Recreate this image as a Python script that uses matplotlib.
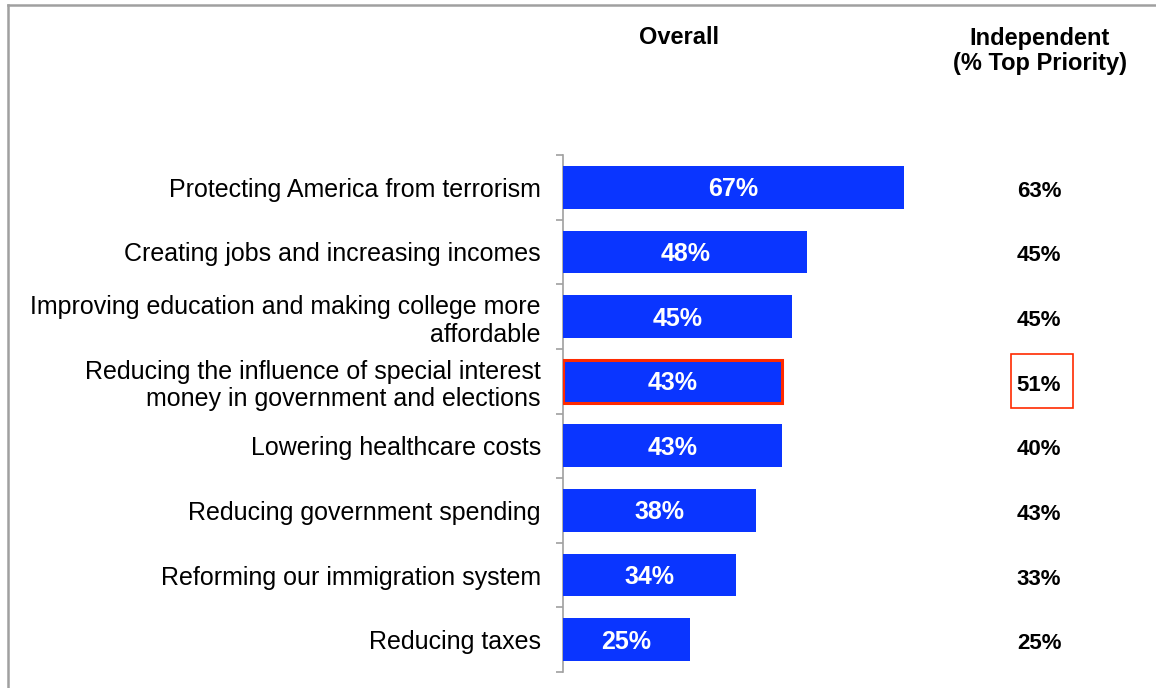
import matplotlib
matplotlib.use("Agg")
import matplotlib.pyplot as plt
from matplotlib.patches import Rectangle
from matplotlib.lines import Line2D

plt.rcParams['font.family'] = ['Liberation Sans', 'DejaVu Sans']

priorities = [
    "Protecting America from terrorism",
    "Creating jobs and increasing incomes",
    "Improving education and making college more\naffordable",
    "Reducing the influence of special interest\nmoney in government and elections",
    "Lowering healthcare costs",
    "Reducing government spending",
    "Reforming our immigration system",
    "Reducing taxes",
]
overall = [67, 48, 45, 43, 43, 38, 34, 25]
independent = [63, 45, 45, 51, 40, 43, 33, 25]
highlight = 3  # money in politics row

W, H = 1156, 688
fig = plt.figure(figsize=(W / 100, H / 100), dpi=100)

# axes placed in pixel terms: bar origin at x=563, rows span y=155..672
ax = fig.add_axes([563 / W, 1 - 672 / H, 509 / W, (672 - 155) / H])
ax.set_xlim(0, 100)
ax.set_ylim(len(priorities) - 0.5, -0.5)

blue = '#0A35FF'
red = '#FF2A00'
grey = '#A0A0A0'

ypos = list(range(len(priorities)))
bars = ax.barh(ypos, overall, height=0.66, color=blue, zorder=3)
bars[highlight].set_edgecolor(red)
bars[highlight].set_linewidth(2.2)

for y, v in zip(ypos, overall):
    ax.text(v / 2, y + 0.03, f"{v}%", ha='center', va='center', color='white',
            fontsize=18, fontweight='bold', zorder=4)

# spines / ticks
for s in ['top', 'right', 'bottom']:
    ax.spines[s].set_visible(False)
ax.spines['left'].set_color(grey)
ax.spines['left'].set_linewidth(1.2)
ax.set_xticks([])
ax.set_yticks(ypos)
ax.set_yticklabels(priorities, fontsize=18, color='black', linespacing=1.2)
ax.tick_params(axis='y', which='major', length=0, pad=16)
ax.set_yticks([y - 0.5 for y in ypos] + [len(ypos) - 0.5], minor=True)
ax.tick_params(axis='y', which='minor', length=5, width=1.2, color=grey)

# independent column, drawn in figure pixels converted from row centres
col_x = 1039 / W
for y, v in zip(ypos, independent):
    fy = (ax.transData.transform((0, y))[1] - 4) / H
    fig.text(col_x, fy, f"{v}%", ha='center', va='center',
             fontsize=16, fontweight='bold', color='black')

# outline box around the independent value for the highlighted row
fy = ax.transData.transform((0, highlight))[1]
fig.add_artist(Rectangle((1011 / W, (fy - 27) / H), 62 / W, 54 / H,
                         transform=fig.transFigure, fill=False,
                         edgecolor=red, linewidth=1.2))

# column headers
fig.text(679 / W, 1 - 37 / H, "Overall", ha='center', va='center',
         fontsize=17, fontweight='bold')
fig.text(1040 / W, 1 - 51 / H, "Independent\n(% Top Priority)", ha='center',
         va='center', fontsize=17, fontweight='bold', linespacing=1.15)

# outer frame lines (top and left)
fig.add_artist(Line2D([8 / W, 1], [1 - 5 / H, 1 - 5 / H],
                      transform=fig.transFigure, color=grey, linewidth=1.8))
fig.add_artist(Line2D([8 / W, 8 / W], [0, 1 - 5 / H],
                      transform=fig.transFigure, color=grey, linewidth=1.8))

fig.savefig("out.png", dpi=100)
